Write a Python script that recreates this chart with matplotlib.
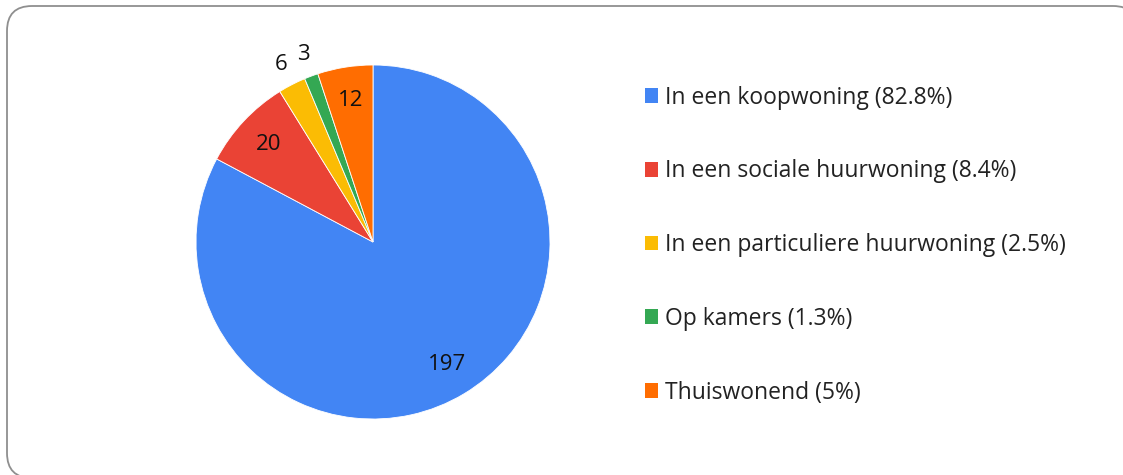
import numpy as np
import matplotlib
matplotlib.use("Agg")
import matplotlib.pyplot as plt
from matplotlib.patches import FancyBboxPatch, Patch

plt.rcParams["font.family"] = ["Open Sans", "DejaVu Sans"]

# woonsituatie (aantallen)
categories = ["In een koopwoning", "In een sociale huurwoning",
              "In een particuliere huurwoning", "Op kamers", "Thuiswonend"]
counts = [197, 20, 6, 3, 12]
legend_pct = ["82.8%", "8.4%", "2.5%", "1.3%", "5%"]
colors = ["#4285F4", "#EA4335", "#FBBC04", "#34A853", "#FF6D01"]

W, H = 1123, 475
fig = plt.figure(figsize=(W / 100, H / 100), dpi=100)

# afgeronde kader rond de grafiek (pixelcoördinaten)
bg = fig.add_axes([0, 0, 1, 1])
bg.set_xlim(0, W); bg.set_ylim(H, 0); bg.axis("off")
bg.add_patch(FancyBboxPatch((7, 6), 1131, 472,
                            boxstyle="round,pad=0,rounding_size=25",
                            fc="white", ec="#8f8f8f", lw=1.3))

# taart: middelpunt (373, 242), straal 177 px
cx, cy, r = 373, 242, 177
ax = fig.add_axes([(cx - r) / W, (H - cy - r) / H, 2 * r / W, 2 * r / H])
wedges, _ = ax.pie(counts, colors=colors, startangle=90, counterclock=False,
                   wedgeprops=dict(edgecolor="white", linewidth=0.6))
ax.set_xlim(-1, 1); ax.set_ylim(-1, 1)
ax.set_aspect("equal")

# waardelabels: grote stukken binnen, kleine stukken buiten
for w, n in zip(wedges, counts):
    ang = np.deg2rad((w.theta1 + w.theta2) / 2)
    dist = 0.81 if n >= 10 else 1.13
    ax.text(dist * np.cos(ang), dist * np.sin(ang), str(n),
            ha="center", va="center", fontsize=16, color="#111111")

handles = [Patch(fc=c, ec="none") for c in colors]
labels = [f"{c} ({p})" for c, p in zip(categories, legend_pct)]
fig.legend(handles, labels, loc="upper left", bbox_to_anchor=(624 / W, 1 - 65 / H),
           frameon=False, fontsize=16.5, handlelength=0.6, handleheight=0.6,
           handletextpad=0.3, labelspacing=2.17, labelcolor="#222222")

fig.savefig("out.png", dpi=100)
